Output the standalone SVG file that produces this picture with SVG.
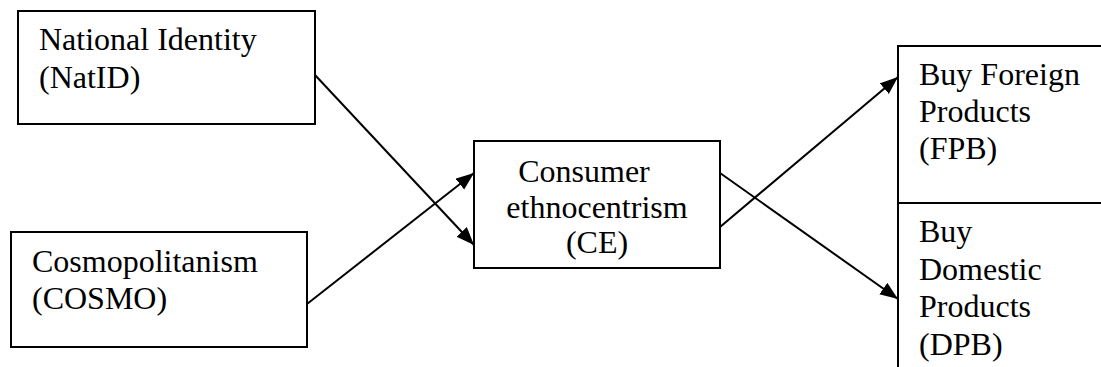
<svg xmlns="http://www.w3.org/2000/svg" width="1101" height="367" viewBox="0 0 1101 367">
  <style>
    .box { fill: #fff; stroke: #000; stroke-width: 2; }
    .lbl { font-family: "Liberation Serif", "Times New Roman", serif; font-size: 32px; fill: #000; }
    .mid { text-anchor: middle; }
    .edge { stroke: #000; stroke-width: 2; fill: none; marker-end: url(#arrow); }
  </style>
  <defs>
    <marker id="arrow" markerUnits="userSpaceOnUse" markerWidth="20" markerHeight="16" refX="18" refY="7" orient="auto">
      <path d="M0,0 L18,7 L0,14 z" fill="#000"/>
    </marker>
  </defs>
  <rect width="1101" height="367" fill="#fff"/>

  <g id="natid">
    <rect class="box" x="18" y="11" width="297" height="113"/>
    <text class="lbl" x="39" y="50">National Identity</text>
    <text class="lbl" x="39" y="88">(NatID)</text>
  </g>

  <g id="cosmo">
    <rect class="box" x="11" y="232" width="296" height="115"/>
    <text class="lbl" x="32" y="272">Cosmopolitanism</text>
    <text class="lbl" x="32" y="309">(COSMO)</text>
  </g>

  <g id="ce">
    <rect class="box" x="474" y="141" width="246" height="127"/>
    <text class="lbl mid" x="584" y="182">Consumer</text>
    <text class="lbl mid" x="597" y="218">ethnocentrism</text>
    <text class="lbl mid" x="597" y="253">(CE)</text>
  </g>

  <g id="fpb">
    <rect class="box" x="898" y="46" width="220" height="157"/>
    <text class="lbl" x="919" y="85">Buy Foreign</text>
    <text class="lbl" x="919" y="122">Products</text>
    <text class="lbl" x="919" y="159">(FPB)</text>
  </g>

  <g id="dpb">
    <rect class="box" x="898" y="203" width="220" height="180"/>
    <text class="lbl" x="919" y="242">Buy</text>
    <text class="lbl" x="919" y="280">Domestic</text>
    <text class="lbl" x="919" y="317">Products</text>
    <text class="lbl" x="919" y="355">(DPB)</text>
  </g>

  <g id="connectors">
    <line class="edge" x1="315" y1="75" x2="474" y2="245"/>
    <line class="edge" x1="307" y1="304" x2="474" y2="173"/>
    <line class="edge" x1="720" y1="227" x2="898" y2="77"/>
    <line class="edge" x1="720" y1="173" x2="898" y2="299"/>
  </g>
</svg>
